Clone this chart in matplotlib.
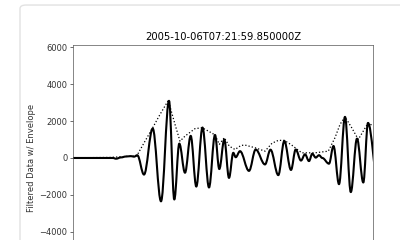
import matplotlib
matplotlib.use('Agg')
import matplotlib.pyplot as plt
from matplotlib.path import Path
from matplotlib.patches import PathPatch, FancyBboxPatch

title = '2005-10-06T07:21:59.850000Z'
ylabel = 'Filtered Data w/ Envelope'
yticks = [-4000, -2000, 0, 2000, 4000, 6000]

# filtered trace (time in s, counts)
trace_t = [0, 40, 43, 48, 53, 58, 61, 64.3, 71, 79.7, 88, 96, 101.3, 106.3, 112,
           117.7, 123.3, 129.5, 136, 142, 146.3, 151.3, 156, 160.3, 162.7, 167,
           176, 182.7, 192, 197.5, 205.3, 211.3, 218, 222.7, 228, 232, 236, 239.3,
           242.7, 246, 249.3, 256, 260.5, 266, 272, 277.8, 284, 290.3, 295, 305]
trace_v = [0, 0, -40, 30, 80, 100, 70, 150, -900, 1600, -2350, 3100, -2250, 780,
           -800, 1200, -1550, 1650, -1600, 1250, -600, 1000, -1080, 280, 40, 370,
           -700, 460, -350, 450, -930, 920, -650, 460, -140, 200, -170, 230, 20,
           150, 0, -310, 650, -1420, 2230, -1850, 1050, -1330, 1900, -1300]

# envelope (dotted)
env_t = [0, 37, 52, 60, 63.7, 72, 79.7, 87, 95.3, 102, 107, 112, 122, 129,
         135.3, 142, 146.3, 151.3, 156.3, 162, 168, 172, 182, 192, 199,
         205.3, 211.3, 218.7, 228.7, 242, 255.3, 262, 267, 272, 278.7, 285.3,
         290.3, 295.3, 300]
env_v = [10, 30, 80, 100, 110, 910, 1640, 2360, 3120, 1820, 910, 1185, 1590,
         1640, 1460, 1250, 735, 1100, 640, 460, 680, 700, 555, 370, 800,
         955, 955, 700, 280, 280, 370, 1100, 1820, 2230, 1640, 1005, 1460, 1910,
         1730]

fig = plt.figure(figsize=(4, 2.4), dpi=100)
fig.add_artist(FancyBboxPatch((0.05, -0.5), 1.2, 1.479,
                              boxstyle='round,pad=0,rounding_size=0.015',
                              transform=fig.transFigure, fc='none',
                              ec='#e2e2e2', lw=1.0))

ax = fig.add_axes([0.1825, -0.129, 0.75, 0.9415])

# smooth curve through the turning points (flat tangent at each one)
verts = [(trace_t[0], trace_v[0])]
codes = [Path.MOVETO]
for i in range(1, len(trace_t)):
    t0, v0 = trace_t[i - 1], trace_v[i - 1]
    t1, v1 = trace_t[i], trace_v[i]
    dt = t1 - t0
    verts += [(t0 + 0.364 * dt, v0), (t1 - 0.364 * dt, v1), (t1, v1)]
    codes += [Path.CURVE4] * 3
ax.add_patch(PathPatch(Path(verts, codes), fc='none', ec='black', lw=1.5,
                       capstyle='round', joinstyle='round'))

ax.plot(env_t, env_v, 'k:', lw=0.9)

ax.set_xlim(0, 300)
ax.set_ylim(-6125, 6125)
ax.set_yticks(yticks)
ax.tick_params(axis='x', labelbottom=False)
ax.set_title(title, fontsize=7.2, pad=3.6)
ax.set_ylabel(ylabel, fontsize=6, labelpad=2.4, color='#333333')
ax.tick_params(labelsize=6, length=2.1, width=0.5, pad=2, colors='#333333')
for s in ax.spines.values():
    s.set_linewidth(0.5)
    s.set_color('#555555')

fig.savefig('out.png', dpi=100)
